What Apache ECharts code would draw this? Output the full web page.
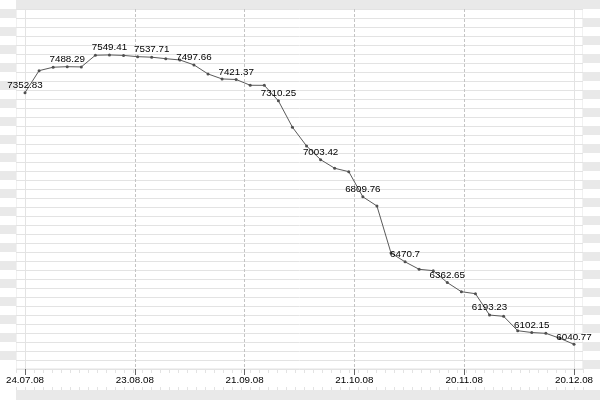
<!DOCTYPE html>
<html>
<head>
<meta charset="utf-8">
<script src="https://cdn.jsdelivr.net/npm/echarts@6/dist/echarts.min.js"></script>
<style>html,body{margin:0;padding:0;background:#fff}#c{width:600px;height:400px}</style>
</head>
<body>
<div id="c"></div>
<script>
// Tick labels of the date axis (equally spaced over the data range)
const dateLabels = ['24.07.08', '23.08.08', '21.09.08', '21.10.08', '20.11.08', '20.12.08'];
// Series values, one per point (equally spaced in time)
const values = [7352.83, 7467.5, 7485.5, 7488.29, 7487, 7548, 7549.41, 7547, 7540.5, 7537.71,
  7530, 7523.3, 7497.66, 7450.3, 7424.3, 7421.37, 7391.4, 7391, 7310.25, 7172.4,
  7074.9, 7003.42, 6958.6, 6940.8, 6809.76, 6762, 6516.8, 6470.7, 6431.9, 6424.6,
  6362.65, 6315, 6304.6, 6193.23, 6186.7, 6111.6, 6102.15, 6098, 6072, 6040.77];
// every third point carries a value label
const labelEvery = 3;

const FONT = "'Liberation Sans', Arial, sans-serif";
const FSIZE = 9.8;
const GRAY = '#e9e9e9';
const LINE = '#e3e3e3';

const n = values.length;
const xInterval = (n - 1) / (dateLabels.length - 1);

function hiddenAxis(gridIndex, extra) {
  return Object.assign({
    gridIndex, type: 'value', show: true,
    axisLine: {show: false}, axisTick: {show: false}, axisLabel: {show: false},
    splitLine: {show: false}, splitArea: {show: false}
  }, extra || {});
}

const grids = [
  {left: 0, width: 16, top: 9, height: 360},                       // 0 left striped column
  {left: 583, right: 0, top: 9, height: 360},                      // 1 right striped column
  {left: 16, width: 567, top: 9, height: 360, show: true, backgroundColor: 'transparent', borderColor: LINE, borderWidth: 1}, // 2 paper
  {left: 16, width: 567, top: 369, height: 21},                    // 3 bottom ruler ticks
  {left: 16, right: 0, top: 0, height: 9, show: true, backgroundColor: GRAY, borderWidth: 0},     // 4 top band
  {left: 16, right: 0, top: 390, bottom: 0, show: true, backgroundColor: GRAY, borderWidth: 0},   // 5 bottom band
  {left: 25, width: 549, top: 9, height: 360}                      // 6 main plot
];

const xAxes = [
  hiddenAxis(0), hiddenAxis(1),
  hiddenAxis(2, {position: 'top', min: 0, max: 63, interval: 1,
    axisTick: {show: true, inside: true, length: 4, lineStyle: {color: LINE}}}),
  hiddenAxis(3, {position: 'bottom', min: 0, max: 63, interval: 1,
    axisTick: {show: true, inside: true, length: 3, lineStyle: {color: LINE}}}),
  hiddenAxis(4), hiddenAxis(5),
  {
    gridIndex: 6, type: 'value', position: 'bottom', min: 0, max: n - 1, interval: xInterval,
    axisLine: {show: false},
    axisTick: {show: true, length: 6, lineStyle: {color: '#666'}},
    axisLabel: {
      show: true, margin: 6, color: '#000', fontSize: FSIZE, fontFamily: FONT,
      formatter: v => dateLabels[Math.round(v / xInterval)]
    },
    splitLine: {show: true, showMinLine: false, showMaxLine: false, lineStyle: {color: '#c4c4c4', type: [3, 2]}}
  },
  hiddenAxis(6, {position: 'top', min: 0, max: n - 1, interval: n - 1,
    splitLine: {show: true, lineStyle: {color: LINE}}})
];

const yAxes = [
  hiddenAxis(0, {min: 0, max: 40, interval: 1, splitArea: {show: true, areaStyle: {color: ['#ffffff', GRAY]}}}),
  hiddenAxis(1, {min: 0, max: 40, interval: 1, splitArea: {show: true, areaStyle: {color: [GRAY, '#ffffff']}}}),
  hiddenAxis(2, {min: 0, max: 40, interval: 1, splitLine: {show: true, lineStyle: {color: LINE}}}),
  hiddenAxis(3), hiddenAxis(4), hiddenAxis(5),
  hiddenAxis(6, {min: 5912, max: 7789})
];

const chart = echarts.init(document.getElementById('c'), null, {renderer: 'canvas'});
chart.setOption({
  animation: false,
  backgroundColor: '#ffffff',
  grid: grids,
  xAxis: xAxes,
  yAxis: yAxes,
  series: [{
    type: 'line',
    xAxisIndex: 6, yAxisIndex: 6,
    data: values.map((v, i) => ({
      value: [i, v],
      label: {show: i % labelEvery === 0}
    })),
    symbol: 'circle', symbolSize: 3,
    lineStyle: {color: '#5a5a5a', width: 1},
    itemStyle: {color: '#505050'},
    label: {
      position: 'top', distance: 1, color: '#000', fontSize: FSIZE, fontFamily: FONT,
      formatter: p => String(p.value[1])
    },
    z: 5
  }]
});
</script>
</body>
</html>
